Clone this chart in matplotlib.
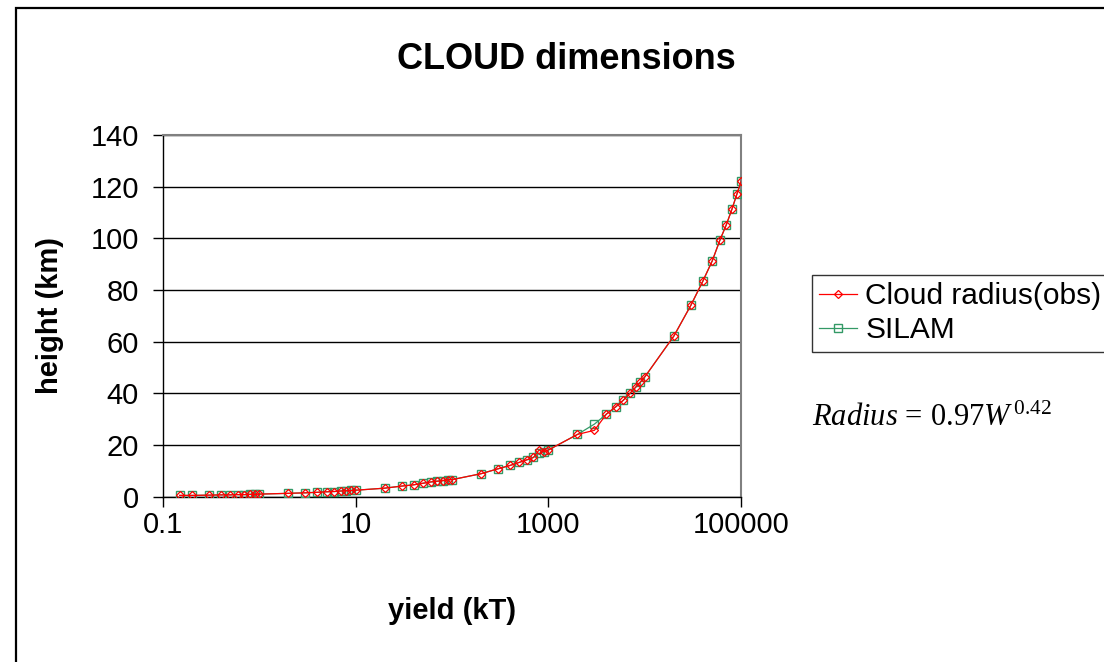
import matplotlib
matplotlib.use("Agg")
import matplotlib.pyplot as plt
from matplotlib.patches import Rectangle
from matplotlib.ticker import FixedLocator, NullLocator

plt.rcParams["font.family"] = ["Liberation Sans", "DejaVu Sans"]
plt.rcParams["mathtext.fontset"] = "custom"
plt.rcParams["mathtext.rm"] = "Liberation Serif"
plt.rcParams["mathtext.it"] = "Liberation Serif:italic"

# yield (kT) and cloud radius (km)
yields = [0.15, 0.2, 0.3, 0.4, 0.5, 0.6, 0.7, 0.8, 0.9, 1,
          2, 3, 4, 5, 6, 7, 8, 9, 10,
          20, 30, 40, 50, 60, 70, 80, 90, 100,
          200, 300, 400, 500, 600, 700, 800, 900, 1000,
          2000, 3000, 4000, 5000, 6000, 7000, 8000, 9000, 10000,
          20000, 30000, 40000, 50000, 60000, 70000, 80000, 90000, 100000]
radius_obs = [0.5, 0.5, 0.6, 0.7, 0.7, 0.8, 0.8, 0.9, 0.9, 1.0,
              1.3, 1.5, 1.7, 1.9, 2.0, 2.2, 2.3, 2.4, 2.5,
              3.3, 4.1, 4.6, 5.2, 5.7, 6.0, 6.2, 6.6, 6.6,
              8.9, 10.8, 12.1, 13.3, 14.3, 15.2, 18.1, 17.3, 18.1,
              24.1, 25.7, 32.0, 34.8, 37.4, 40.0, 42.3, 44.4, 46.4,
              62.2, 74.1, 83.5, 91.3, 99.3, 105.3, 111.3, 117.1, 122.2]
radius_silam = [0.5, 0.5, 0.6, 0.7, 0.7, 0.8, 0.8, 0.9, 0.9, 1.0,
                1.3, 1.5, 1.7, 1.9, 2.0, 2.2, 2.3, 2.4, 2.5,
                3.3, 4.1, 4.6, 5.2, 5.7, 6.0, 6.2, 6.6, 6.6,
                8.9, 10.8, 12.1, 13.3, 14.3, 15.2, 16.8, 17.3, 18.1,
                24.1, 28.1, 32.0, 34.8, 37.4, 40.0, 42.3, 44.4, 46.4,
                62.2, 74.1, 83.5, 91.3, 99.3, 105.3, 111.3, 117.1, 122.2]

xticks = [0.1, 10, 1000, 100000]
xticklabels = ["0.1", "10", "1000", "100000"]
yticks = [0, 20, 40, 60, 80, 100, 120, 140]

W, H = 1104, 662
fig = plt.figure(figsize=(W / 100, H / 100), dpi=100)
fig.patches.append(Rectangle((16 / W, -0.1), 1.2, 1 - 8 / H + 0.1,
                             transform=fig.transFigure, fill=False,
                             edgecolor="black", linewidth=1.6))

ax = fig.add_axes([162.7 / W, 1 - 496.7 / H, 578.6 / W, 361.7 / H])
ax.set_xscale("log")
ax.set_xlim(0.1, 100000)
ax.set_ylim(0, 140)

ax.plot(yields, radius_obs, color="#ff0000", linewidth=0.9, marker="D",
        markersize=3.8, markerfacecolor="none", markeredgecolor="#ff0000",
        markeredgewidth=0.9, label="Cloud radius(obs)", zorder=4)
ax.plot(yields, radius_silam, color="#339966", linewidth=0.9, marker="s",
        markersize=6, markerfacecolor="none", markeredgecolor="#339966",
        markeredgewidth=1.0, label="SILAM", zorder=3)

ax.xaxis.set_major_locator(FixedLocator(xticks))
ax.xaxis.set_minor_locator(NullLocator())
ax.set_xticklabels(xticklabels)
ax.set_yticks(yticks)
ax.tick_params(axis="both", direction="out", length=7.2, width=1,
               labelsize=21, color="black")
ax.tick_params(axis="x", pad=3)
ax.tick_params(axis="y", pad=10)
ax.yaxis.grid(True, color="black", linewidth=1)
ax.set_axisbelow(True)
for side in ("top", "right"):
    ax.spines[side].set_color("#808080")
    ax.spines[side].set_linewidth(1.5)
for side in ("left", "bottom"):
    ax.spines[side].set_color("black")
    ax.spines[side].set_linewidth(1)

fig.text(566 / W, 1 - 69 / H, "CLOUD dimensions", ha="center",
         va="baseline", fontsize=26, fontweight="bold")
fig.text(50 / W, 1 - 315.6 / H, "height (km)", ha="center", va="center",
         rotation=90, fontsize=21, fontweight="bold")
fig.text(452 / W, 1 - 597 / H, "yield (kT)", ha="center", va="top",
         fontsize=21, fontweight="bold")

leg = fig.legend(loc="upper left", bbox_to_anchor=(812 / W, 1 - 275 / H),
                 fontsize=21.5, frameon=True, fancybox=False, handlelength=1.25,
                 handletextpad=0.28, borderpad=0.25, labelspacing=0.2,
                 borderaxespad=0)
leg.get_frame().set_edgecolor("black")
leg.get_frame().set_linewidth(1)

fig.text(812 / W, 1 - 426 / H, r"$Radius\,=\,0.97W^{\,0.42}$",
         ha="left", va="baseline", fontsize=22)

fig.savefig("out.png", dpi=100)
